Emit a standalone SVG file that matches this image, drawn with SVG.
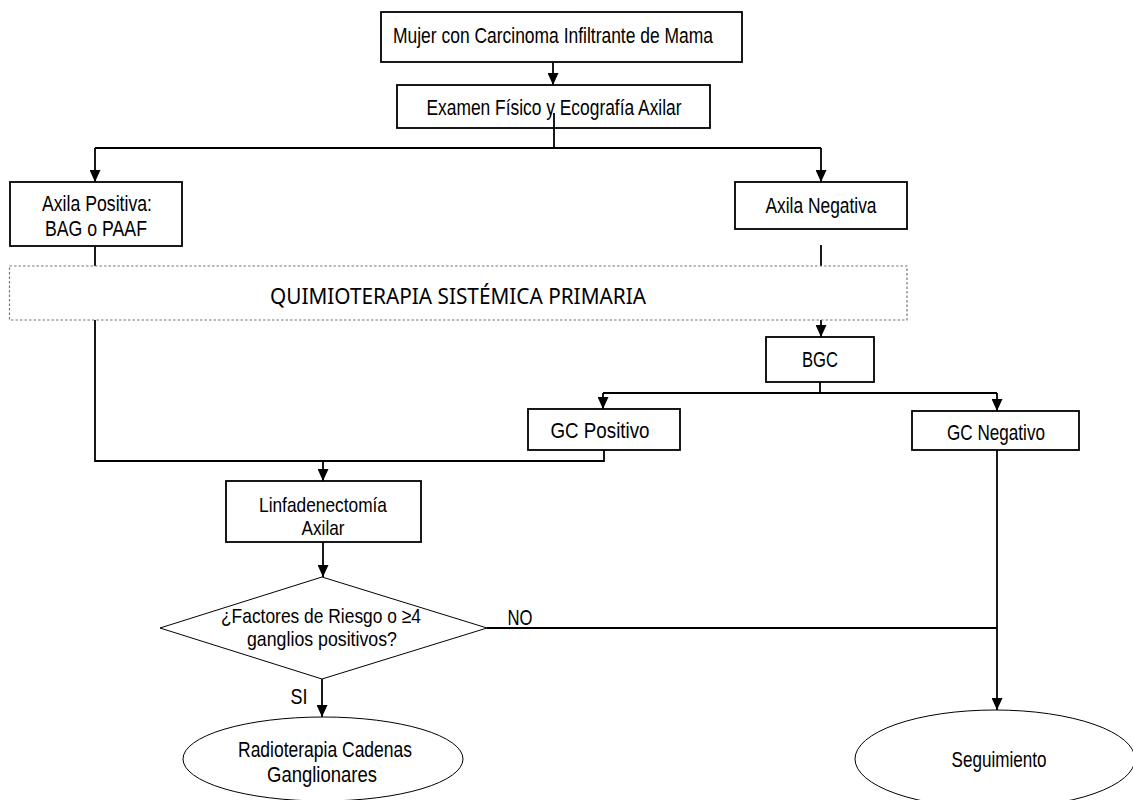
<svg xmlns="http://www.w3.org/2000/svg" width="1133" height="800" viewBox="0 0 1133 800">
  <style>
    .box { fill: #fff; stroke: #000; stroke-width: 1.8; }
    .thin { fill: #fff; stroke: #000; stroke-width: 1; }
    .phase { fill: #fff; stroke: #777; stroke-width: 1.2; stroke-dasharray: 2.5 2; }
    .lbl { font-family: "Liberation Sans Narrow", "Liberation Sans", Arial, sans-serif; font-size: 22px; fill: #000; text-anchor: middle; }
    .lbl2 { font-family: "Liberation Sans Narrow", "Liberation Sans", Arial, sans-serif; font-size: 21px; fill: #000; text-anchor: middle; }
    .phase-lbl { font-family: "Noto Sans", "Open Sans", sans-serif; font-size: 21px; fill: #000; text-anchor: middle; }
    .wire { fill: none; stroke: #000; stroke-width: 1.8; }
    .arrow { fill: none; stroke: #000; stroke-width: 1.8; marker-end: url(#head); }
  </style>
  <defs>
    <!-- filled arrowhead, tip at the end of the line -->
    <marker id="head" markerUnits="userSpaceOnUse" markerWidth="12" markerHeight="11" viewBox="0 0 12 11" refX="12" refY="5.5" orient="auto">
      <path d="M0,0 L12,5.5 L0,11 Z" fill="#000"/>
    </marker>
  </defs>
  <rect width="1133" height="800" fill="#fff"/>

  <!-- connectors -->
  <g id="connectors">
    <line class="arrow" x1="553" y1="62" x2="553" y2="85"/>
    <line class="wire" x1="554" y1="113" x2="554" y2="148"/>
    <line class="wire" x1="95" y1="148" x2="821" y2="148"/>
    <line class="arrow" x1="95" y1="148" x2="95" y2="182"/>
    <line class="arrow" x1="821" y1="148" x2="821" y2="182"/>
    <line class="wire" x1="95" y1="246" x2="95" y2="266"/>
    <line class="wire" x1="821" y1="245" x2="821" y2="266"/>
    <line class="arrow" x1="821" y1="320" x2="821" y2="337"/>
    <polyline class="wire" points="95,320 95,461 604,461 604,450"/>
    <line class="arrow" x1="323" y1="461" x2="323" y2="481"/>
    <line class="wire" x1="820" y1="382" x2="820" y2="393"/>
    <line class="wire" x1="603" y1="393" x2="997" y2="393"/>
    <line class="arrow" x1="603" y1="393" x2="603" y2="409"/>
    <line class="arrow" x1="997" y1="393" x2="997" y2="411"/>
    <line class="arrow" x1="323" y1="542" x2="323" y2="577"/>
    <line class="arrow" x1="322" y1="679" x2="322" y2="717"/>
    <line class="wire" x1="487" y1="628" x2="997" y2="628"/>
    <line class="arrow" x1="997" y1="450" x2="997" y2="710"/>
    <text class="lbl" x="520" y="625" textLength="25" lengthAdjust="spacingAndGlyphs">NO</text>
    <text class="lbl" x="299" y="704" textLength="17" lengthAdjust="spacingAndGlyphs">SI</text>
  </g>

  <g id="inicio">
    <rect class="box" x="381" y="12" width="361" height="50"/>
    <text class="lbl" x="553" y="43" textLength="320" lengthAdjust="spacingAndGlyphs">Mujer con Carcinoma Infiltrante de Mama</text>
  </g>

  <g id="examen">
    <rect class="box" x="397" y="85" width="313" height="43"/>
    <text class="lbl" x="554" y="115" textLength="255" lengthAdjust="spacingAndGlyphs">Examen Físico y Ecografía Axilar</text>
  </g>
  <line class="wire" x1="554" y1="113" x2="554" y2="128"/>

  <g id="axila-positiva">
    <rect class="box" x="10" y="182" width="172" height="64"/>
    <text class="lbl" x="97" y="211" textLength="110" lengthAdjust="spacingAndGlyphs">Axila Positiva:</text>
    <text class="lbl" x="96" y="236" textLength="102" lengthAdjust="spacingAndGlyphs">BAG o PAAF</text>
  </g>

  <g id="axila-negativa">
    <rect class="box" x="735" y="182" width="172" height="47"/>
    <text class="lbl" x="821" y="213" textLength="111" lengthAdjust="spacingAndGlyphs">Axila Negativa</text>
  </g>

  <g id="quimioterapia">
    <rect class="phase" x="9.5" y="266" width="897.5" height="54"/>
    <text class="phase-lbl" x="458" y="304" textLength="376" lengthAdjust="spacingAndGlyphs">QUIMIOTERAPIA SISTÉMICA PRIMARIA</text>
  </g>

  <g id="bgc">
    <rect class="box" x="766" y="337" width="108" height="45"/>
    <text class="lbl" x="820" y="367" textLength="36" lengthAdjust="spacingAndGlyphs">BGC</text>
  </g>

  <g id="gc-positivo">
    <rect class="box" x="528" y="409" width="152" height="41"/>
    <text class="lbl" x="600" y="438" textLength="99" lengthAdjust="spacingAndGlyphs">GC Positivo</text>
  </g>

  <g id="gc-negativo">
    <rect class="box" x="912" y="411" width="167" height="39"/>
    <text class="lbl" x="996" y="440" textLength="98" lengthAdjust="spacingAndGlyphs">GC Negativo</text>
  </g>

  <g id="linfadenectomia">
    <rect class="box" x="226" y="481" width="195" height="61"/>
    <text class="lbl2" x="323" y="512" textLength="128" lengthAdjust="spacingAndGlyphs">Linfadenectomía</text>
    <text class="lbl2" x="323" y="535" textLength="43" lengthAdjust="spacingAndGlyphs">Axilar</text>
  </g>

  <g id="factores">
    <polygon class="thin" points="322,577 487,628 322,679 160,628"/>
    <text class="lbl2" x="321" y="623" textLength="200" lengthAdjust="spacingAndGlyphs">¿Factores de Riesgo o ≥4</text>
    <text class="lbl2" x="322" y="646" textLength="150" lengthAdjust="spacingAndGlyphs">ganglios positivos?</text>
  </g>

  <g id="radioterapia">
    <ellipse class="thin" cx="323" cy="759" rx="140" ry="42"/>
    <text class="lbl" x="325" y="757" textLength="174" lengthAdjust="spacingAndGlyphs">Radioterapia Cadenas</text>
    <text class="lbl" x="322" y="782" textLength="110" lengthAdjust="spacingAndGlyphs">Ganglionares</text>
  </g>

  <g id="seguimiento">
    <ellipse class="thin" cx="995" cy="759" rx="140" ry="49"/>
    <text class="lbl" x="999" y="767" textLength="95" lengthAdjust="spacingAndGlyphs">Seguimiento</text>
  </g>
</svg>
